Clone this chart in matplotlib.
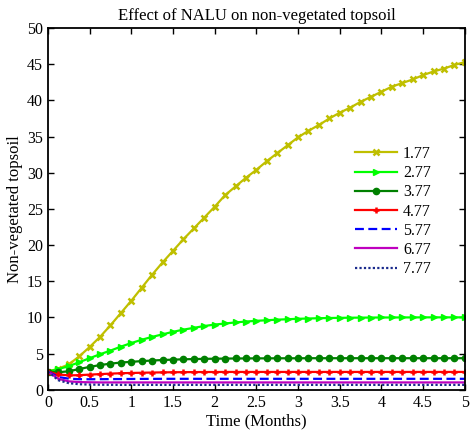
import numpy as np
import matplotlib
matplotlib.use("Agg")
import matplotlib.pyplot as plt

plt.rcParams['font.family'] = ['Liberation Serif', 'DejaVu Serif']

# time grid (months)
t = np.arange(0, 5.0001, 0.125)

labels = ['1.77', '2.77', '3.77', '4.77', '5.77', '6.77', '7.77']

y177 = [2.5, 2.9, 3.5, 4.6, 5.9, 7.3, 8.9, 10.6, 12.3, 14.1, 15.9, 17.6, 19.2, 20.8,
        22.3, 23.8, 25.3, 26.9, 28.1, 29.3, 30.4, 31.6, 32.7, 33.8, 34.9, 35.8, 36.6,
        37.5, 38.3, 39.0, 39.8, 40.5, 41.2, 41.9, 42.4, 42.9, 43.5, 44.0, 44.4, 44.9, 45.3]
y277 = [2.5, 2.85, 3.25, 3.8, 4.35, 4.9, 5.4, 5.95, 6.45, 6.9, 7.3, 7.65, 8.0, 8.3,
        8.55, 8.8, 9.0, 9.15, 9.3, 9.42, 9.52, 9.6, 9.68, 9.74, 9.8, 9.84, 9.88, 9.91,
        9.93, 9.95, 9.96, 9.97, 9.98, 9.98, 9.99, 9.99, 10.0, 10.0, 10.0, 10.0, 10.0]
y377 = [2.5, 2.4, 2.55, 2.85, 3.15, 3.4, 3.6, 3.75, 3.85, 3.95, 4.03, 4.1, 4.15, 4.2,
        4.23, 4.26, 4.28, 4.3, 4.31, 4.32, 4.33, 4.33, 4.34, 4.34, 4.34, 4.35, 4.35,
        4.35, 4.35, 4.35, 4.35, 4.35, 4.35, 4.35, 4.35, 4.35, 4.35, 4.35, 4.35, 4.35, 4.35]
y477 = [2.5, 2.1, 1.98, 2.0, 2.08, 2.15, 2.22, 2.27, 2.31, 2.34, 2.37, 2.39, 2.41, 2.42,
        2.43, 2.44, 2.44, 2.45, 2.45, 2.45, 2.45, 2.45, 2.45, 2.45, 2.45, 2.45, 2.45,
        2.45, 2.45, 2.45, 2.45, 2.45, 2.45, 2.45, 2.45, 2.45, 2.45, 2.45, 2.45, 2.45, 2.45]
y577 = [2.5, 1.75, 1.52, 1.45, 1.44, 1.45, 1.46, 1.47, 1.48, 1.49, 1.49, 1.5, 1.5, 1.5,
        1.5, 1.5, 1.5, 1.5, 1.5, 1.5, 1.5, 1.5, 1.5, 1.5, 1.5, 1.5, 1.5, 1.5, 1.5, 1.5,
        1.5, 1.5, 1.5, 1.5, 1.5, 1.5, 1.5, 1.5, 1.5, 1.5, 1.5]
y677 = [2.5, 1.5, 1.15, 1.05, 1.02, 1.0, 1.0, 1.0, 1.0, 1.0, 1.0, 1.0, 1.0, 1.0, 1.0,
        1.0, 1.0, 1.0, 1.0, 1.0, 1.0, 1.0, 1.0, 1.0, 1.0, 1.0, 1.0, 1.0, 1.0, 1.0, 1.0,
        1.0, 1.0, 1.0, 1.0, 1.0, 1.0, 1.0, 1.0, 1.0, 1.0]
y777 = [2.5, 1.3, 0.9, 0.75, 0.7, 0.68, 0.67, 0.66, 0.66, 0.66, 0.66, 0.66, 0.66, 0.66,
        0.66, 0.66, 0.66, 0.66, 0.66, 0.66, 0.66, 0.66, 0.66, 0.66, 0.66, 0.66, 0.66,
        0.66, 0.66, 0.66, 0.66, 0.66, 0.66, 0.66, 0.66, 0.66, 0.66, 0.66, 0.66, 0.66, 0.66]

fig = plt.figure(figsize=(4.7, 4.32), dpi=100)
ax = fig.add_axes([0.102, 0.098, 0.887, 0.837])

lw = 1.6
ax.plot(t, y177, color='#bfbf00', lw=lw, marker='x', ms=5, mew=1.8, label=labels[0])
ax.plot(t, y277, color='#00ff00', lw=lw, marker='>', ms=5, label=labels[1])
ax.plot(t, y377, color='#008000', lw=lw, marker='o', ms=4.5, label=labels[2])
ax.plot(t, y477, color='#ff0000', lw=lw, marker='+', ms=5, mew=1.8, label=labels[3])
ax.plot(t, y577, color='#0000ff', lw=lw, ls=(0, (4, 2)), label=labels[4])
ax.plot(t, y677, color='#bf00bf', lw=lw, label=labels[5])
ax.plot(t, y777, color='#1a2a8c', lw=lw, ls=(0, (1, 1)), label=labels[6])

ax.set_xlim(0, 5)
ax.set_ylim(0, 50)
ax.set_xticks(np.arange(0, 5.01, 0.5))
ax.set_xticklabels(['0', '0.5', '1', '1.5', '2', '2.5', '3', '3.5', '4', '4.5', '5'])
ax.set_yticks(np.arange(0, 51, 5))
ax.tick_params(direction='in', top=True, right=True, labelsize=11.5, length=4, width=1)
for s in ax.spines.values():
    s.set_linewidth(1.3)

ax.set_title('Effect of NALU on non-vegetated topsoil', fontsize=12, pad=6)
ax.set_xlabel('Time (Months)', fontsize=12, labelpad=2)
ax.set_ylabel('Non-vegetated topsoil', fontsize=12, labelpad=3)

ax.legend(loc='upper left', bbox_to_anchor=(0.71, 0.705), frameon=False, fontsize=11.5,
          handlelength=2.6, labelspacing=0.2, borderpad=0.2, handletextpad=0.4)

fig.savefig('out.png', dpi=100)
